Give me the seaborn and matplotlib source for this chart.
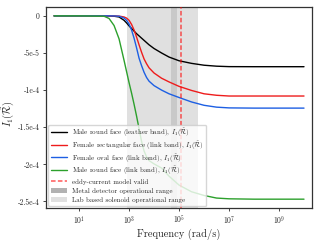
import numpy as np
import pandas as pd
import seaborn as sns
import matplotlib
matplotlib.use("Agg")
import matplotlib.pyplot as plt
import matplotlib.patches as mpatches
from matplotlib.legend_handler import HandlerPatch

# Frequency grid (log10 of rad/s)
log_freq = [0, 1, 2, 2.2, 2.4, 2.6, 2.8, 2.9, 3.0, 3.1, 3.2, 3.3, 3.4, 3.5, 3.6, 3.7,
            3.8, 4.0, 4.3, 4.6, 5.0, 5.5, 6.0, 6.5, 7.0, 8.0, 9.0, 10.0]

# I_1 values in units of 1e-5
male_leather = [0, 0, 0, -0.02, -0.05, -0.15, -0.6, -0.95, -1.35, -1.7, -2.05, -2.4, -2.7,
                -3.0, -3.3, -3.6, -3.9, -4.4, -5.0, -5.55, -6.05, -6.4, -6.65, -6.78,
                -6.84, -6.85, -6.85, -6.85]
female_rect = [0, 0, 0, 0, 0, -0.03, -0.15, -0.3, -0.6, -1.15, -1.9, -2.85, -3.9,
               -4.9, -5.8, -6.45, -7.0, -7.7, -8.4, -8.9, -9.5, -10.05, -10.5, -10.7,
               -10.8, -10.8, -10.8, -10.8]
female_oval = [0, 0, 0, 0, -0.01, -0.05, -0.3, -0.6, -1.1, -1.9, -3.0, -4.3, -5.7,
               -6.7, -7.6, -8.3, -8.8, -9.4, -10.0, -10.5, -11.0, -11.6, -12.05, -12.3,
               -12.4, -12.43, -12.43, -12.43]
male_link = [0, 0, -0.05, -0.35, -1.3, -3.1, -6.0, -7.5, -9.0, -10.4, -11.9, -13.5, -15.2,
             -16.9, -18.2, -19.0, -19.5, -19.95, -20.5, -21.6, -22.8, -23.7, -24.2,
             -24.55, -24.65, -24.7, -24.7, -24.7]

series_labels = [
    r"Male round face (leather band), $I_1(\tilde{\mathcal{R}})$",
    r"Female rectangular face (link band), $I_1(\tilde{\mathcal{R}})$",
    r"Female oval face (link band), $I_1(\tilde{\mathcal{R}})$",
    r"Male round face (link band), $I_1(\tilde{\mathcal{R}})$",
]
series_colors = ["black", "#ee1c1c", "#1d5fe3", "#2ca02c"]

eddy_valid = 1.2e5                 # rad/s
metal_range = (4.8e4, 8.3e4)       # rad/s
lab_range = (8.5e2, 5.75e5)        # rad/s

ytick_vals = [0, -5e-5, -1e-4, -1.5e-4, -2e-4, -2.5e-4]
ytick_labels = ["0", "-5e-5", "-1e-4", "-1.5e-4", "-2e-4", "-2.5e-4"]
xtick_vals = [1e1, 1e3, 1e5, 1e7, 1e9]
xtick_labels = [r"$10^{1}$", r"$10^{3}$", r"$10^{5}$", r"$10^{7}$", r"$10^{9}$"]

sns.set_style("ticks")
plt.rcParams.update({
    "font.family": "serif",
    "font.serif": ["cmr10"],
    "mathtext.fontset": "cm",
    "axes.unicode_minus": False,
    "axes.edgecolor": "#333333",
})

freq = 10.0 ** np.array(log_freq)
df = pd.DataFrame({"freq": freq})
for lab, vals in zip(series_labels, [male_leather, female_rect, female_oval, male_link]):
    df[lab] = np.array(vals) * 1e-5
long_df = df.melt(id_vars="freq", var_name="series", value_name="I1")

fig = plt.figure(figsize=(3.2, 2.4), dpi=100)
ax = fig.add_axes([0.144, 0.133, 0.831, 0.838])

ax.axvspan(*metal_range, color="grey", alpha=0.6, lw=0, zorder=0,
           label="Metal detector operational range")
ax.axvspan(*lab_range, color="lightgrey", alpha=0.7, lw=0, zorder=0.5,
           label="Lab based solenoid operational range")

sns.lineplot(data=long_df, x="freq", y="I1", hue="series", hue_order=series_labels,
             palette=series_colors, linewidth=1.0, ax=ax, zorder=2)
ax.axvline(eddy_valid, color="red", linestyle=(0, (3, 1.5)), alpha=0.65, lw=1.1,
           label="eddy-current model valid", zorder=3)

ax.set_xscale("log")
ax.set_xlim(10 ** -0.32, 10 ** 10.32)
ax.set_ylim(-2.59e-4, 1.2e-5)
ax.set_xticks(xtick_vals)
ax.set_xticklabels(xtick_labels)
ax.xaxis.set_minor_locator(matplotlib.ticker.NullLocator())
ax.set_yticks(ytick_vals)
ax.set_yticklabels(ytick_labels)
ax.tick_params(labelsize=5.5, length=2.5, width=0.6, pad=2)
for s in ax.spines.values():
    s.set_linewidth(0.9)

ax.set_xlabel("Frequency (rad/s)", fontsize=7.5, labelpad=1)
ax.set_ylabel(r"$I_1(\tilde{\mathcal{R}})$", fontsize=7.5)
ax.yaxis.set_label_coords(-0.108, 0.47)


def small_patch(legend, orig_handle, xdescent, ydescent, width, height, fontsize):
    # keep the patch swatches short even though the rows are tall
    return mpatches.Rectangle((-xdescent, -ydescent + height * 0.22), width, height * 0.56)


handles, labels = ax.get_legend_handles_labels()
order = series_labels + ["eddy-current model valid", "Metal detector operational range",
                         "Lab based solenoid operational range"]
hmap = dict(zip(labels, handles))
ax.legend([hmap[k] for k in order], order, loc="lower left", fontsize=5.0,
          handlelength=2.3, handleheight=1.5, borderpad=0.35, labelspacing=0.05,
          framealpha=0.8, borderaxespad=0.3,
          handler_map={mpatches.Polygon: HandlerPatch(patch_func=small_patch),
                       mpatches.Rectangle: HandlerPatch(patch_func=small_patch)})

fig.savefig("out.png", dpi=100)
